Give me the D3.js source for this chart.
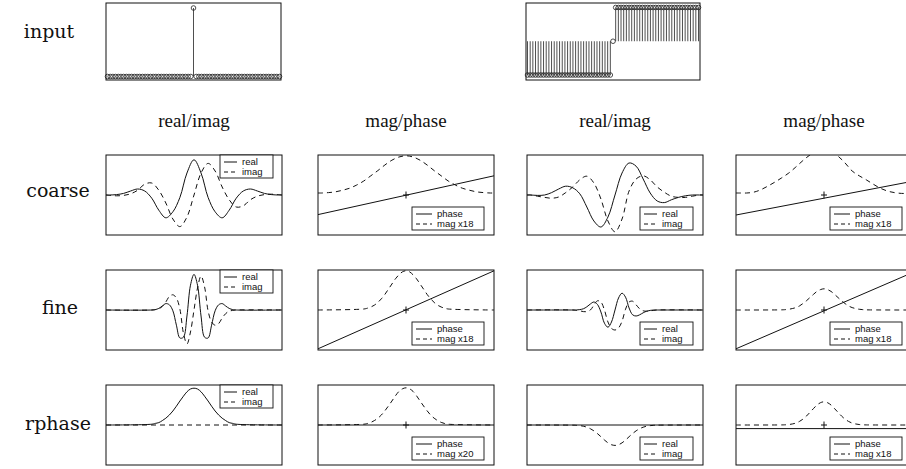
<!DOCTYPE html>
<html>
<head>
<meta charset="utf-8">
<script src="https://cdn.jsdelivr.net/npm/d3@7"></script>
<style>
  body { margin: 0; background: #fff; }
  svg { display: block; }
  .lab { font-family: "Liberation Serif", "Times New Roman", serif; font-size: 19px; fill: #111; }
  .rowlab { font-family: "DejaVu Serif", serif; font-size: 19px; }
  .leg text { font-family: "Liberation Sans", Arial, sans-serif; font-size: 9.5px; fill: #111; }
</style>
</head>
<body>
<svg id="fig" width="906" height="469"></svg>
<script>
// ---- data ----
const rowNames = ["input", "coarse", "fine", "rphase"];
const colTitles = ["real/imag", "mag/phase", "real/imag", "mag/phase"];

// input signals (65 samples)
const inputImpulse = [
  0,0,0,0,0,0,0,0, 0,0,0,0,0,0,0,0, 0,0,0,0,0,0,0,0, 0,0,0,0,0,0,0,0,
  1,
  0,0,0,0,0,0,0,0, 0,0,0,0,0,0,0,0, 0,0,0,0,0,0,0,0, 0,0,0,0,0,0,0,0
];
const inputStep = [
  -1,-1,-1,-1,-1,-1,-1,-1, -1,-1,-1,-1,-1,-1,-1,-1, -1,-1,-1,-1,-1,-1,-1,-1, -1,-1,-1,-1,-1,-1,-1,-1,
  0,
  1,1,1,1,1,1,1,1, 1,1,1,1,1,1,1,1, 1,1,1,1,1,1,1,1, 1,1,1,1,1,1,1,1
];

// sample positions (offset from centre, % of panel width)
const coarseX = [-50,-48,-44,-40,-36,-32,-28,-24,-20,-16,-12,-8,-4,0,4,8,12,16,20,24,28,32,36,40,44,48,50];
const fineX   = [-50,-24,-22,-20,-18,-16,-14,-12,-10,-8,-6,-4,-2,0,2,4,6,8,10,12,14,16,18,20,22,24,50];
const edgeX   = [-50, 50];

// coarse, impulse input
const coarseImpReal  = [0,0,0.01,0.04,0.1,0.15,0.1,-0.08,-0.38,-0.57,-0.42,-0.06,0.55,0.88,0.55,-0.06,-0.42,-0.57,-0.38,-0.08,0.1,0.15,0.1,0.04,0.01,0,0];
const coarseImpImag  = [0,-0.01,-0.02,-0.01,0.03,0.12,0.27,0.3,0.12,-0.2,-0.6,-0.79,-0.55,0,0.55,0.79,0.6,0.2,-0.12,-0.3,-0.27,-0.12,-0.03,0.01,0.02,0.01,0];
const coarseImpMag   = [0.05,0.05,0.06,0.08,0.12,0.17,0.25,0.35,0.48,0.61,0.75,0.87,0.95,0.98,0.95,0.87,0.75,0.61,0.48,0.35,0.25,0.17,0.12,0.08,0.06,0.05,0.05];
const coarseImpPhase = [-0.49, 0.48];

// coarse, step input
const coarseStepReal  = [0,0,-0.01,0,0.06,0.15,0.22,0.18,0.03,-0.3,-0.65,-0.8,-0.55,0,0.55,0.8,0.72,0.4,0.05,-0.15,-0.19,-0.12,-0.06,-0.02,0,0,0];
const coarseStepImag  = [0,0,-0.03,-0.06,-0.08,-0.05,0.06,0.2,0.38,0.47,0.3,-0.1,-0.65,-0.92,-0.6,0.1,0.4,0.48,0.38,0.2,0.07,-0.03,-0.06,-0.06,-0.03,0,0];
const coarseStepMag   = [0.05,0.05,0.05,0.07,0.13,0.22,0.32,0.43,0.55,0.7,0.86,1.0,1.09,1.12,1.09,0.97,0.8,0.6,0.48,0.38,0.27,0.17,0.1,0.06,0.04,0.04,0.04];
const coarseStepPhase = [-0.5, 0.34];

// fine, impulse input
const fineImpReal  = [0,0,0.01,0.04,0.1,0.16,0.13,-0.02,-0.38,-0.7,-0.68,-0.15,0.62,0.89,0.62,-0.15,-0.68,-0.7,-0.38,-0.02,0.13,0.16,0.1,0.04,0.01,0,0];
const fineImpImag  = [0,0,0.01,0.03,0.09,0.2,0.34,0.38,0.3,0.02,-0.58,-0.85,-0.55,0,0.55,0.85,0.58,-0.02,-0.3,-0.38,-0.34,-0.2,-0.09,-0.03,-0.01,0,0];
const fineImpMag   = [0,0.025,0.044,0.075,0.12,0.19,0.28,0.39,0.52,0.65,0.78,0.88,0.955,0.98,0.955,0.88,0.78,0.65,0.52,0.39,0.28,0.19,0.12,0.075,0.044,0.025,0];
const fineImpPhase = [-0.97, 0.98];

// fine, step input
const fineStepReal  = [0,0,0,0.01,0.03,0.08,0.15,0.2,0.14,-0.05,-0.33,-0.43,-0.3,0,0.3,0.42,0.32,0.05,-0.12,-0.15,-0.12,-0.07,-0.03,-0.01,0,0,0];
const fineStepImag  = [0,0,-0.01,-0.02,-0.04,-0.04,0,0.12,0.23,0.2,0,-0.3,-0.46,-0.5,-0.45,-0.28,0.02,0.2,0.22,0.13,0.03,-0.02,-0.03,-0.02,-0.01,0,0];
const fineStepMag   = [0,0.004,0.009,0.019,0.036,0.06,0.1,0.16,0.23,0.31,0.39,0.465,0.51,0.53,0.51,0.465,0.39,0.31,0.23,0.16,0.1,0.06,0.036,0.019,0.009,0.004,0];
const fineStepPhase = [-0.97, 0.93];

// rphase, impulse input
const rphaseImpReal  = [0,0.02,0.04,0.06,0.11,0.17,0.25,0.35,0.47,0.6,0.72,0.83,0.9,0.92,0.9,0.83,0.72,0.6,0.47,0.35,0.25,0.17,0.11,0.06,0.04,0.02,0];
const rphaseImpImag  = [0, 0];
const rphaseImpMag   = [0,0.02,0.037,0.065,0.11,0.17,0.25,0.355,0.475,0.6,0.73,0.84,0.905,0.93,0.905,0.84,0.73,0.6,0.475,0.355,0.25,0.17,0.11,0.065,0.037,0.02,0];
const rphaseImpPhase = [0, 0];

// rphase, step input
const rphaseStepReal  = [0, 0];
const rphaseStepImag  = [0,-0.004,-0.008,-0.016,-0.03,-0.055,-0.093,-0.146,-0.214,-0.293,-0.375,-0.446,-0.493,-0.51,-0.493,-0.446,-0.375,-0.293,-0.214,-0.146,-0.093,-0.055,-0.03,-0.016,-0.008,-0.004,0];
const rphaseStepMag   = [0,0.002,0.005,0.012,0.026,0.048,0.088,0.145,0.222,0.315,0.41,0.499,0.558,0.58,0.558,0.499,0.41,0.315,0.222,0.145,0.088,0.048,0.026,0.012,0.005,0.002,0];
const rphaseStepPhase = [-0.09, -0.09];

// ---- layout ----
const svg = d3.select("#fig");
const PW = 176, PH = 80;
const colX = [106, 318, 527, 736];
const rowY = { coarse: 155, fine: 270, rphase: 385 };

const line = (x, y) => d3.line()
  .x(d => x(d[0]))
  .y(d => y(d[1]))
  .curve(d3.curveCatmullRom.alpha(0.5));

let clipId = 0;

// one real/imag or mag/phase panel
function drawPanel(row, col, series, legend, plus) {
  const g = svg.append("g").attr("transform", `translate(${colX[col]},${rowY[row]})`);
  const x = d3.scaleLinear().domain([-50, 50]).range([0, PW]);
  const y = d3.scaleLinear().domain([-1, 1]).range([PH, 0]);
  const id = "clip" + (clipId++);
  g.append("clipPath").attr("id", id)
    .append("rect").attr("width", PW).attr("height", PH);
  const inner = g.append("g").attr("clip-path", `url(#${id})`);

  series.forEach(s => {
    inner.append("path")
      .datum(d3.zip(s.x, s.y))
      .attr("d", line(x, y))
      .attr("fill", "none")
      .attr("stroke", "#111")
      .attr("stroke-width", 1)
      .attr("stroke-dasharray", s.dash ? "5,4" : null);
  });

  if (plus) {
    const cx = x(0), cy = y(0);
    inner.append("path")
      .attr("d", `M${cx - 3},${cy}H${cx + 3}M${cx},${cy - 3.5}V${cy + 3.5}`)
      .attr("stroke", "#111").attr("stroke-width", 1);
  }

  // frame
  g.append("rect")
    .attr("width", PW).attr("height", PH)
    .attr("fill", "none").attr("stroke", "#111").attr("stroke-width", 1);

  // legend box
  const lw = legend.wide ? 72 : 53;
  const lh = 23;
  const bx = legend.pos === "tr" ? PW - 9 - lw : PW - 10 - lw;
  const by = legend.pos === "tr" ? 0 : PH - 5 - lh;
  const seg = legend.wide ? 16 : 13;
  const lg = g.append("g").attr("class", "leg");
  lg.append("rect")
    .attr("x", bx).attr("y", by).attr("width", lw).attr("height", lh)
    .attr("fill", "#fff").attr("stroke", "#111").attr("stroke-width", 0.9);
  legend.labels.forEach((t, i) => {
    const ly = by + 7 + i * 10;
    lg.append("line")
      .attr("x1", bx + 4).attr("x2", bx + 4 + seg)
      .attr("y1", ly).attr("y2", ly)
      .attr("stroke", "#111").attr("stroke-width", 1)
      .attr("stroke-dasharray", i === 1 ? "4,3" : null);
    lg.append("text")
      .attr("x", bx + seg + 9).attr("y", ly + 3.3)
      .text(t);
  });
}

// stem plot of the input signal
function drawInput(x0, w, vals, lo, hi) {
  const h = 77, y0 = 3;
  const g = svg.append("g").attr("transform", `translate(${x0},${y0})`);
  const x = d3.scaleLinear().domain([0, vals.length - 1]).range([1.5, w - 1.5]);
  const y = d3.scaleLinear().domain([lo, hi]).range([h, 0]);
  g.selectAll("line.stem").data(vals).join("line")
    .attr("class", "stem")
    .attr("x1", (d, i) => x(i)).attr("x2", (d, i) => x(i))
    .attr("y1", y(0)).attr("y2", d => y(d))
    .attr("stroke", "#222").attr("stroke-width", 0.8);
  g.selectAll("circle").data(vals).join("circle")
    .attr("cx", (d, i) => x(i)).attr("cy", d => y(d))
    .attr("r", 2.3)
    .attr("fill", "none").attr("stroke", "#222").attr("stroke-width", 0.8);
  g.append("rect")
    .attr("width", w).attr("height", h)
    .attr("fill", "none").attr("stroke", "#111").attr("stroke-width", 1);
}

drawInput(106, 175, inputImpulse, -0.051, 1.073);
drawInput(526, 174, inputStep, -1.148, 1.133);

const ri = (xr, re, xi, im) => [{ x: xr, y: re }, { x: xi, y: im, dash: true }];
const mp = (xp, ph, xm, mg) => [{ x: xp, y: ph }, { x: xm, y: mg, dash: true }];
const legRI = pos => ({ labels: ["real", "imag"], pos });
const legMP = (k) => ({ labels: ["phase", "mag x" + k], pos: "br", wide: true });

// coarse
drawPanel("coarse", 0, ri(coarseX, coarseImpReal, coarseX, coarseImpImag), legRI("tr"), false);
drawPanel("coarse", 1, mp(edgeX, coarseImpPhase, coarseX, coarseImpMag), legMP(18), true);
drawPanel("coarse", 2, ri(coarseX, coarseStepReal, coarseX, coarseStepImag), legRI("br"), false);
drawPanel("coarse", 3, mp(edgeX, coarseStepPhase, coarseX, coarseStepMag), legMP(18), true);
// fine
drawPanel("fine", 0, ri(fineX, fineImpReal, fineX, fineImpImag), legRI("tr"), false);
drawPanel("fine", 1, mp(edgeX, fineImpPhase, fineX, fineImpMag), legMP(18), true);
drawPanel("fine", 2, ri(fineX, fineStepReal, fineX, fineStepImag), legRI("br"), false);
drawPanel("fine", 3, mp(edgeX, fineStepPhase, fineX, fineStepMag), legMP(18), true);
// rphase
drawPanel("rphase", 0, ri(fineX, rphaseImpReal, edgeX, rphaseImpImag), legRI("tr"), false);
drawPanel("rphase", 1, mp(edgeX, rphaseImpPhase, fineX, rphaseImpMag), legMP(20), true);
drawPanel("rphase", 2, ri(edgeX, rphaseStepReal, fineX, rphaseStepImag), legRI("br"), false);
drawPanel("rphase", 3, mp(edgeX, rphaseStepPhase, fineX, rphaseStepMag), legMP(18), true);

// column titles
svg.selectAll("text.coltitle").data(colTitles).join("text")
  .attr("class", "lab coltitle")
  .attr("x", (d, i) => colX[i] + PW / 2)
  .attr("y", 127)
  .attr("text-anchor", "middle")
  .text(d => d);

// row labels
const rowLabelX = [49, 58, 60, 58];
const rowLabelY = [38, 197, 314, 430];
svg.selectAll("text.rowlab").data(rowNames).join("text")
  .attr("class", "lab rowlab")
  .attr("x", (d, i) => rowLabelX[i])
  .attr("y", (d, i) => rowLabelY[i])
  .attr("text-anchor", "middle")
  .text(d => d);
</script>
</body>
</html>
